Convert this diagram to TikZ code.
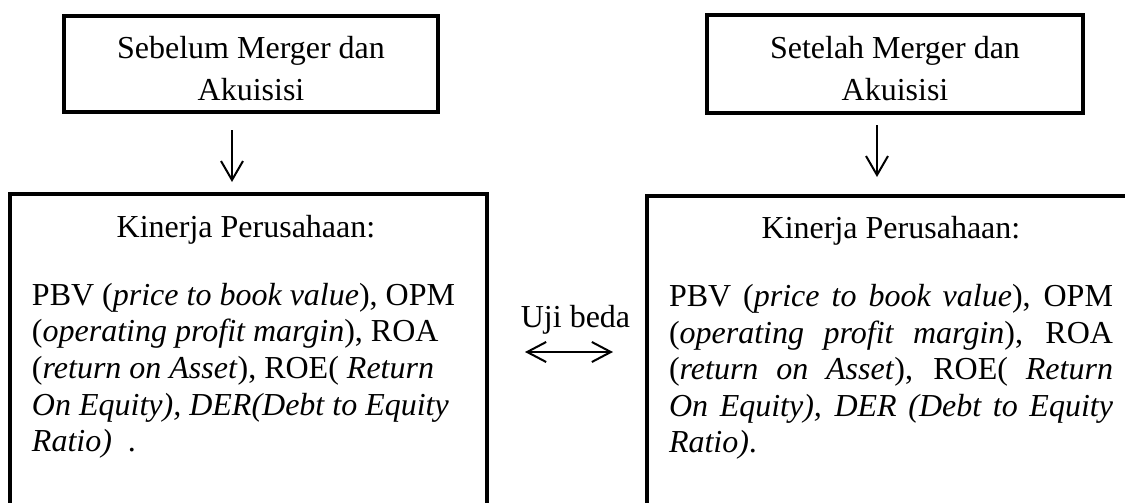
\documentclass[tikz,border=0pt]{standalone}
\usepackage{fontspec}
\setmainfont{Liberation Serif}
\usetikzlibrary{arrows.meta}
% a justified line of fixed width (interword spaces stretch evenly)
\newcommand\jline[1]{\hbox to 222pt{\spaceskip=0.25em plus 1fil\relax #1}}
\begin{document}
\begin{tikzpicture}[x=0.5pt,y=-0.5pt,
  frame/.style={draw, line width=2pt, rectangle, inner sep=0pt, outer sep=0pt},
  body/.style={font=\fontsize{16pt}{18pt}\selectfont, inner sep=0pt, outer sep=0pt, anchor=base},
  row/.style={body, anchor=base west},
  arr/.style={line width=1pt, -{Straight Barb[length=9.5pt,width=11pt,line width=1pt]}},
  dbl/.style={line width=1pt, {Straight Barb[length=9.5pt,width=10pt,line width=1pt]}-{Straight Barb[length=9.5pt,width=10pt,line width=1pt]}},
]
\useasboundingbox (0,0) rectangle (1125,503);
\clip (0,0) rectangle (1125,503);

% ---- top boxes
\node[frame, minimum width=187pt, minimum height=48pt] (sebelumBox) at (251,64) {};
\node[body] (sebelum1) at (251,58) {Sebelum Merger dan};
\node[body] (sebelum2) at (251,100) {Akuisisi};

\node[frame, minimum width=188pt, minimum height=49pt] (setelahBox) at (895,64) {};
\node[body] (setelah1) at (895,58) {Setelah Merger dan};
\node[body] (setelah2) at (895,100) {Akuisisi};

% ---- performance boxes (they run past the lower edge)
\node[frame, minimum width=238.5pt, minimum height=173pt] (kinerjaL) at (248.5,367) {};
\node[frame, minimum width=244pt, minimum height=172pt] (kinerjaR) at (891,368) {};

% left box text
\node[body] (judulL) at (246,237) {Kinerja Perusahaan:};
\node[row] (l1) at (32,305) {PBV (\textit{price to book value}), OPM};
\node[row] (l2) at (32,341.7) {(\textit{operating profit margin}), ROA};
\node[row] (l3) at (32,378.4) {(\textit{return on Asset}), ROE( \textit{Return}};
\node[row] (l4) at (32,415.1) {\textit{On Equity), DER(Debt to Equity}};
\node[row] (l5) at (32,451.8) {\textit{Ratio)}\ \ .};

% right box text
\node[body] (judulR) at (891,238) {Kinerja Perusahaan:};
\node[row] (r1) at (669,306.5) {\jline{PBV (\textit{price to book value}), OPM}};
\node[row] (r2) at (669,343) {\jline{(\textit{operating profit margin}), ROA}};
\node[row] (r3) at (669,379.5) {\jline{(\textit{return on Asset}), ROE( \textit{Return}}};
\node[row] (r4) at (669,416) {\jline{\textit{On Equity), DER (Debt to Equity}}};
\node[row] (r5) at (669,452.5) {\textit{Ratio)}.};

% ---- connectors
\coordinate (arrowL) at (232,150);
\coordinate (arrowR) at (877,150);
\draw[arr, shorten <=9pt, shorten >=6pt] (sebelumBox.south -| arrowL) -- (kinerjaL.north -| arrowL);
\draw[arr, shorten <=6pt, shorten >=9.5pt] (setelahBox.south -| arrowR) -- (kinerjaR.north -| arrowR);

\node[body] (uji) at (575.5,327) {Uji beda};
\coordinate (ujiArrow) at (569,352);
\draw[dbl, shorten <=19pt, shorten >=17pt] (kinerjaL.east |- ujiArrow) -- (kinerjaR.west |- ujiArrow);
\end{tikzpicture}
\end{document}
